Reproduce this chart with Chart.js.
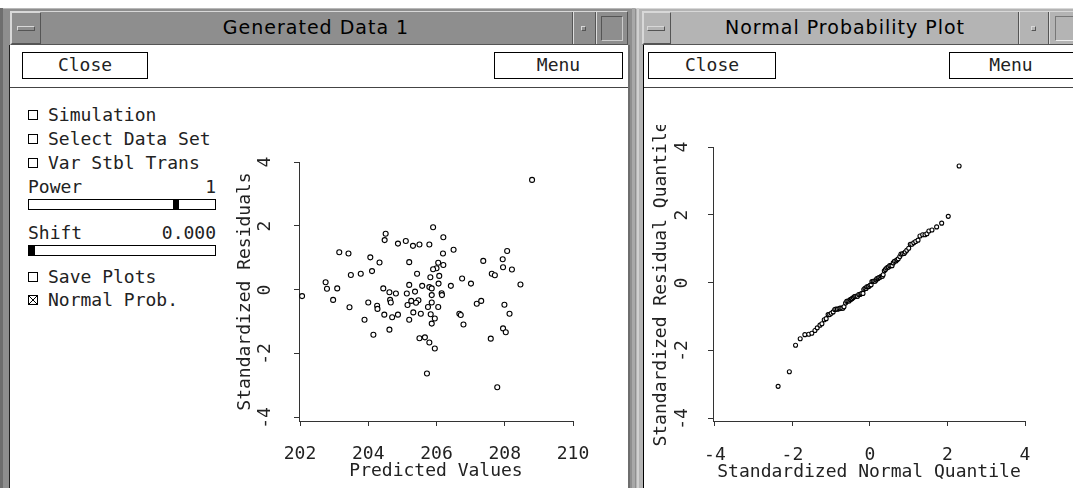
<!DOCTYPE html>
<html>
<head>
<meta charset="utf-8">
<script src="https://cdn.jsdelivr.net/npm/chart.js@4/dist/chart.umd.min.js"></script>
<style>
  html, body { margin: 0; padding: 0; background: #fff; }
  #screen { position: relative; width: 1073px; height: 488px; overflow: hidden; background: #fff; }
  .abs { position: absolute; box-sizing: border-box; }
  .mono { font-family: 'DejaVu Sans Mono', monospace; font-size: 18px; color: #222; white-space: pre; }
  .title { font-family: 'DejaVu Sans', sans-serif; font-size: 19px; letter-spacing: 1px; color: #000; text-align: center; line-height: 34px; }
  .btn { border: 1px solid #000; background: #fff; text-align: center; line-height: 24px; }
  .raised { border-top: 1px solid #d8d8d8; border-left: 1px solid #d8d8d8; border-right: 1px solid #555; border-bottom: 1px solid #555; }
  .vsepd { width: 1px; background: #555; }
  .vsepl { width: 1px; background: #ddd; }
  .line { position: absolute; left: 48px; height: 20px; line-height: 20px; }
  .box { position: absolute; left: 28px; width: 10px; height: 10px; border: 1px solid #000; box-sizing: border-box; }
  .slider { position: absolute; left: 28px; width: 188px; height: 11px; border: 1px solid #000; box-sizing: border-box; }
  .thumb { position: absolute; top: 0; width: 6px; height: 9px; background: #000; }
</style>
</head>
<body>
<div id="screen">
  <!-- left window frame -->
  <div class="abs" style="left:0;top:8px;width:636px;height:480px;background:#8e8e8e;border-top:1px solid #b8b8b8"></div>
  <div class="abs" style="left:0;top:8px;width:3px;height:480px;background:#6e6e6e"></div>
  <div class="abs" style="left:628px;top:45px;width:2px;height:443px;background:#6e6e6e"></div>
  <div class="abs" style="left:632px;top:8px;width:3px;height:480px;background:#a8a8a8"></div>
  <div class="abs raised" style="left:10px;top:11px;width:618px;height:34px;background:#8e8e8e"></div>
  <div class="abs raised" style="left:11px;top:12px;width:30px;height:32px;background:#8e8e8e"></div>
  <div class="abs raised" style="left:17px;top:26px;width:18px;height:5px;background:#8e8e8e"></div>
  <div class="abs title" style="left:42px;top:10px;width:548px">Generated Data 1</div>
  <div class="abs vsepd" style="left:572px;top:12px;height:32px"></div>
  <div class="abs vsepl" style="left:573px;top:12px;height:32px"></div>
  <div class="abs raised" style="left:581px;top:26px;width:5px;height:5px;background:#8e8e8e"></div>
  <div class="abs vsepd" style="left:595px;top:12px;height:32px"></div>
  <div class="abs vsepl" style="left:596px;top:12px;height:32px"></div>
  <div class="abs" style="left:601px;top:16px;width:22px;height:25px;border-top:1px solid #555;border-left:1px solid #555;border-right:1px solid #ccc;border-bottom:1px solid #ccc"></div>
  <div class="abs" style="left:9px;top:45px;width:619px;height:443px;background:#fff;border-left:1px solid #222"></div>
  <div class="abs btn mono" style="left:22px;top:52px;width:126px;height:27px">Close</div>
  <div class="abs btn mono" style="left:494px;top:52px;width:129px;height:27px">Menu</div>
  <div class="abs" style="left:10px;top:87px;width:618px;height:1px;background:#444"></div>

  <!-- left controls -->
  <div class="box" style="top:110px"></div><div class="line mono" style="top:105px">Simulation</div>
  <div class="box" style="top:134px"></div><div class="line mono" style="top:129px">Select Data Set</div>
  <div class="box" style="top:158px"></div><div class="line mono" style="top:153px">Var Stbl Trans</div>
  <div class="line mono" style="top:177px;left:28px">Power</div>
  <div class="line mono" style="top:177px;left:150px;width:66px;text-align:right">1</div>
  <div class="slider" style="top:199px"><div class="thumb" style="left:144px"></div></div>
  <div class="line mono" style="top:223px;left:28px">Shift</div>
  <div class="line mono" style="top:223px;left:150px;width:66px;text-align:right">0.000</div>
  <div class="slider" style="top:245px"><div class="thumb" style="left:0"></div></div>
  <div class="box" style="top:272px"></div><div class="line mono" style="top:267px">Save Plots</div>
  <svg class="abs" style="left:28px;top:295px" width="10" height="10"><rect x="0.5" y="0.5" width="9" height="9" fill="none" stroke="#000"/><path d="M1 1L9 9M9 1L1 9" stroke="#000" stroke-width="1"/></svg>
  <div class="line mono" style="top:290px">Normal Prob.</div>

  <canvas id="residualPlot" class="abs" width="370" height="348" style="left:225px;top:140px;width:370px;height:348px"></canvas>

  <!-- right window frame -->
  <div class="abs" style="left:636px;top:8px;width:437px;height:480px;background:#b4b4b4;border-top:1px solid #d8d8d8"></div>
  <div class="abs" style="left:637px;top:8px;width:2px;height:480px;background:#d0d0d0"></div>
  <div class="abs raised" style="left:642px;top:11px;width:440px;height:34px;background:#b4b4b4"></div>
  <div class="abs raised" style="left:643px;top:12px;width:28px;height:32px;background:#b4b4b4"></div>
  <div class="abs raised" style="left:647px;top:26px;width:18px;height:5px;background:#b4b4b4"></div>
  <div class="abs title" style="left:672px;top:10px;width:346px">Normal Probability Plot</div>
  <div class="abs vsepd" style="left:1018px;top:12px;height:32px"></div>
  <div class="abs vsepl" style="left:1019px;top:12px;height:32px"></div>
  <div class="abs raised" style="left:1031px;top:26px;width:5px;height:5px;background:#b4b4b4"></div>
  <div class="abs vsepd" style="left:1048px;top:12px;height:32px"></div>
  <div class="abs vsepl" style="left:1049px;top:12px;height:32px"></div>
  <div class="abs" style="left:1055px;top:16px;width:30px;height:25px;border-top:1px solid #777;border-left:1px solid #777;border-right:1px solid #eee;border-bottom:1px solid #eee"></div>
  <div class="abs" style="left:643px;top:45px;width:430px;height:443px;background:#fff;border-left:1px solid #000"></div>
  <div class="abs btn mono" style="left:648px;top:52px;width:128px;height:27px">Close</div>
  <div class="abs btn mono" style="left:949px;top:52px;width:140px;height:27px;padding-right:16px">Menu</div>
  <div class="abs" style="left:644px;top:87px;width:429px;height:1px;background:#444"></div>

  <canvas id="probPlot" class="abs" width="428" height="363" style="left:645px;top:125px;width:428px;height:363px"></canvas>
</div>

<script>
// residual plot: predicted value / standardized residual for each case
const predictedValues = [
  202.06, 202.75, 202.79, 203.09, 202.97, 203.15, 203.42, 203.49, 203.78, 203.45,
  203.89, 204.15, 204.00, 204.26, 204.27, 204.06, 204.33, 204.11, 204.44, 204.62,
  204.81, 204.64, 204.66, 204.47, 204.70, 204.87, 204.62, 204.51, 204.48, 204.87,
  205.10, 205.20, 205.20, 205.13, 205.15, 205.20, 205.90, 205.31, 205.50, 205.79,
  206.20, 206.50, 206.19, 205.43, 206.05, 206.20, 206.00, 205.90, 205.82, 206.08,
  206.06, 205.58, 205.79, 205.86, 205.37, 206.15, 206.16, 205.86, 205.26, 205.47,
  205.40, 205.86, 205.75, 206.05, 205.32, 205.54, 205.83, 205.95, 205.86, 205.50,
  205.66, 205.79, 205.95, 205.72, 206.42, 206.75, 207.01, 207.37, 207.62, 207.71,
  207.94, 208.07, 207.95, 208.21, 208.46, 206.67, 206.71, 206.79, 207.18, 207.31,
  207.99, 208.14, 207.95, 208.03, 207.59, 207.78, 208.80
]
const residuals = [
  -0.19, 0.24, 0.04, 0.05, -0.31, 1.18, 1.14, 0.47, 0.51, -0.54,
  -0.93, -1.40, -0.39, -0.49, -0.59, 1.02, 0.86, 0.59, 0.05, -0.07,
  -0.11, -0.31, -0.39, -0.77, -0.85, -0.77, -1.24, 1.76, 1.56, 1.45,
  1.53, 0.87, 0.16, -0.11, -0.47, -0.93, 1.96, 1.38, 1.42, 1.42,
  1.65, 1.26, 1.14, 0.51, 0.85, 0.78, 0.68, 0.65, 0.40, 0.44,
  0.20, 0.13, 0.09, 0.05, -0.05, -0.10, -0.16, -0.16, -0.34, -0.32,
  -0.40, -0.39, -0.53, -0.53, -0.70, -0.74, -0.76, -0.89, -1.05, -1.51,
  -1.48, -1.64, -1.83, -2.61, 0.13, 0.36, 0.20, 0.91, 0.51, 0.46,
  0.96, 1.22, 0.71, 0.64, 0.17, -0.74, -0.78, -1.08, -0.43, -0.34,
  -0.46, -0.74, -1.20, -1.32, -1.52, -3.04, 3.44
]

// normal probability plot
const normalQuantiles = [
  -2.37, -2.08, -1.92, -1.80, -1.68, -1.58, -1.50, -1.42, -1.36, -1.29,
  -1.24, -1.18, -1.13, -1.08, -1.04, -1.00, -0.95, -0.91, -0.88, -0.84,
  -0.80, -0.77, -0.73, -0.70, -0.67, -0.63, -0.60, -0.57, -0.54, -0.51,
  -0.48, -0.46, -0.43, -0.40, -0.37, -0.34, -0.32, -0.29, -0.26, -0.23,
  -0.21, -0.18, -0.16, -0.13, -0.10, -0.08, -0.05, -0.03, 0.00, 0.03,
  0.05, 0.08, 0.10, 0.13, 0.16, 0.18, 0.21, 0.23, 0.26, 0.29,
  0.32, 0.34, 0.37, 0.40, 0.43, 0.46, 0.48, 0.51, 0.54, 0.57,
  0.60, 0.63, 0.67, 0.70, 0.73, 0.77, 0.80, 0.84, 0.88, 0.91,
  0.95, 1.00, 1.04, 1.08, 1.13, 1.18, 1.24, 1.29, 1.36, 1.42,
  1.47, 1.52, 1.60, 1.72, 1.85, 2.02, 2.30
]
const residualQuantiles = [
  -3.04, -2.61, -1.83, -1.64, -1.52, -1.51, -1.48, -1.40, -1.32, -1.24,
  -1.20, -1.08, -1.05, -0.93, -0.93, -0.89, -0.85, -0.78, -0.77, -0.77,
  -0.76, -0.74, -0.74, -0.74, -0.70, -0.59, -0.54, -0.53, -0.53, -0.49,
  -0.47, -0.46, -0.43, -0.40, -0.39, -0.39, -0.39, -0.34, -0.34, -0.32,
  -0.31, -0.31, -0.19, -0.16, -0.16, -0.11, -0.11, -0.10, -0.07, -0.05,
  0.04, 0.05, 0.05, 0.05, 0.09, 0.13, 0.13, 0.16, 0.17, 0.20,
  0.20, 0.24, 0.36, 0.40, 0.44, 0.46, 0.47, 0.51, 0.51, 0.51,
  0.59, 0.64, 0.65, 0.68, 0.71, 0.78, 0.85, 0.86, 0.87, 0.91,
  0.96, 1.02, 1.14, 1.14, 1.18, 1.22, 1.26, 1.38, 1.42, 1.42,
  1.45, 1.53, 1.56, 1.65, 1.76, 1.96, 3.44
]

const predictedTicks = [202, 204, 206, 208, 210]
const predictedLabels = ['202', '204', '206', '208', '210']
const quantileTicks = [-4, -2, 0, 2, 4]
const quantileLabels = ['-4', '-2', '0', '2', '4']

Chart.defaults.font.family = "'DejaVu Sans Mono', monospace"
Chart.defaults.font.size = 18
Chart.defaults.color = '#222'

function axis(ticks, labels, min, max, size, tickPad, titleText, titlePad, vertical) {
  return {
    type: 'linear',
    min: min,
    max: max,
    afterBuildTicks: (s) => { s.ticks = ticks.map((v) => ({ value: v })) },
    afterFit: (s) => {
      if (vertical) s.width = size
      else s.height = size
      // keep the plot area where the layout padding puts it
      s.paddingLeft = 0
      s.paddingRight = 0
      s.paddingTop = 0
      s.paddingBottom = 0
    },
    grid: { drawOnChartArea: false, drawTicks: true, tickLength: 5, color: '#333' },
    border: { display: true, color: '#333', width: 1 },
    ticks: {
      autoSkip: false,
      minRotation: vertical ? 90 : 0,
      maxRotation: vertical ? 90 : 0,
      crossAlign: vertical ? 'center' : 'near',
      padding: tickPad,
      callback: (v, i) => labels[i]
    },
    title: { display: true, text: titleText, padding: titlePad }
  }
}

function scatter(id, xs, ys, radius, padding, xScale, yScale) {
  let ctx = document.getElementById(id).getContext('2d')
  return new Chart(ctx, {
    type: 'scatter',
    data: {
      datasets: [
        {
          data: xs.map((x, i) => ({ x: x, y: ys[i] })),
          pointRadius: radius,
          pointHoverRadius: radius,
          pointBorderWidth: 1.1,
          pointBorderColor: '#000',
          pointBackgroundColor: '#fff'
        }
      ]
    },
    options: {
      responsive: false,
      animation: false,
      events: [],
      layout: { padding: padding },
      plugins: { legend: { display: false }, tooltip: { enabled: false } },
      scales: { x: xScale, y: yScale }
    }
  })
}

scatter('residualPlot', predictedValues, residuals, 2.5,
  { top: 22, right: 22, left: 0, bottom: 0 },
  axis(predictedTicks, predictedLabels, 201.97, 210, 67, 18, 'Predicted Values', { top: 0, bottom: 6 }, false),
  axis(quantileTicks, quantileLabels, -4.094, 4, 74, 18, 'Standardized Residuals', { top: 10, bottom: 0 }, true))

scatter('probPlot', normalQuantiles, residualQuantiles, 2,
  { top: 22, right: 48, left: 0, bottom: 0 },
  axis(quantileTicks, quantileLabels, -4.05, 4, 67, 19, 'Standardized Normal Quantile', { top: 0, bottom: 5 }, false),
  axis(quantileTicks, quantileLabels, -4.06, 4, 68, 15, 'Standardized Residual Quantile', { top: 6, bottom: 0 }, true))
</script>
</body>
</html>
